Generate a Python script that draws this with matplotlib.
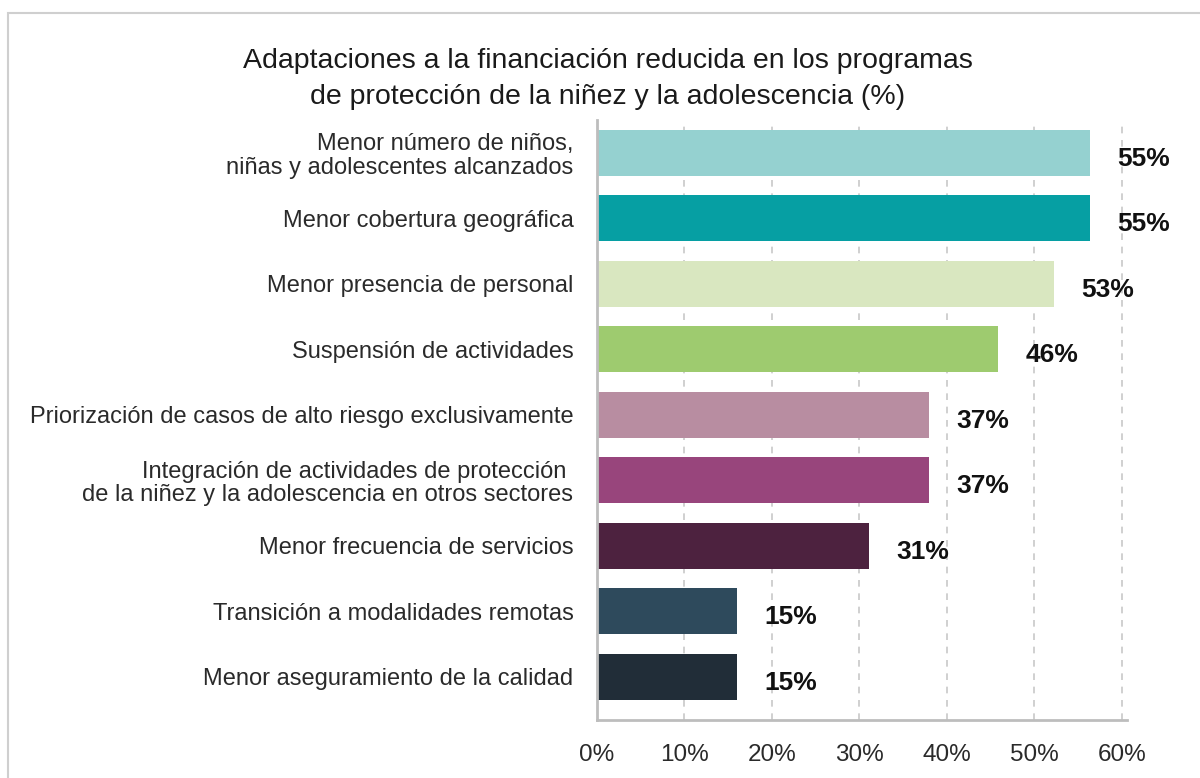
import matplotlib.pyplot as plt
from matplotlib.patches import Rectangle

plt.rcParams['font.family'] = ['Liberation Sans', 'DejaVu Sans']

categories = [
    'Menor número de niños,\nniñas y adolescentes alcanzados',
    'Menor cobertura geográfica',
    'Menor presencia de personal',
    'Suspensión de actividades',
    'Priorización de casos de alto riesgo exclusivamente',
    'Integración de actividades de protección \nde la niñez y la adolescencia en otros sectores',
    'Menor frecuencia de servicios',
    'Transición a modalidades remotas',
    'Menor aseguramiento de la calidad',
]
# bar lengths as drawn, and the labels printed next to them
values = [56.4, 56.4, 52.3, 45.9, 38.0, 38.0, 31.1, 16.0, 16.0]
value_labels = ['55%', '55%', '53%', '46%', '37%', '37%', '31%', '15%', '15%']
colors = ['#95d1d0', '#069fa3', '#d9e7c0', '#9ecb6f', '#b88da1',
          '#98457c', '#4d223f', '#2e4a5c', '#212d38']
xticks = [0, 10, 20, 30, 40, 50, 60]

fig = plt.figure(figsize=(12, 7.78), dpi=100)
fig.patches.append(Rectangle((8 / 1200, -0.1), 1.2, 1 - 13 / 778 + 0.1,
                             transform=fig.transFigure, fill=False,
                             edgecolor='#cfcfcf', linewidth=1.5))

ax = fig.add_axes([597 / 1200, 1 - 720 / 778, (1127 - 597) / 1200, 600 / 778])
pos = list(range(len(categories)))
ax.barh(pos, values, height=0.7, color=colors, zorder=2)

ax.set_xlim(0, 60.6)
ax.set_ylim(8.66, -0.5)
ax.set_yticks(pos)
ax.set_yticklabels(categories, fontsize=17, color='#2a2a2a',
                   multialignment='right', linespacing=1.1)
ax.set_xticks(xticks)
ax.set_xticklabels(['{}%'.format(t) for t in xticks], fontsize=17.5,
                   color='#2a2a2a')
ax.tick_params(axis='both', length=0)
ax.tick_params(axis='y', pad=17)
ax.tick_params(axis='x', pad=17)

for t in xticks[1:]:
    ax.axvline(t, color='#c8c8c8', linestyle=(0, (4, 4)), linewidth=1.2, zorder=1)

for s in ['top', 'right']:
    ax.spines[s].set_visible(False)
for s in ['left', 'bottom']:
    ax.spines[s].set_color('#bdbdbd')
    ax.spines[s].set_linewidth(2)

for y, v, lab in zip(pos, values, value_labels):
    ax.annotate(lab, (v, y), xytext=(27, -6), textcoords='offset pixels',
                ha='left', va='center', fontsize=19, fontweight='bold',
                color='#111111')

fig.text(608 / 1200, 1 - 79 / 778,
         'Adaptaciones a la financiación reducida en los programas\n'
         'de protección de la niñez y la adolescencia (%)',
         ha='center', va='center', fontsize=20.5, color='#1a1a1a',
         linespacing=1.45)

fig.savefig('out.png', dpi=100)
